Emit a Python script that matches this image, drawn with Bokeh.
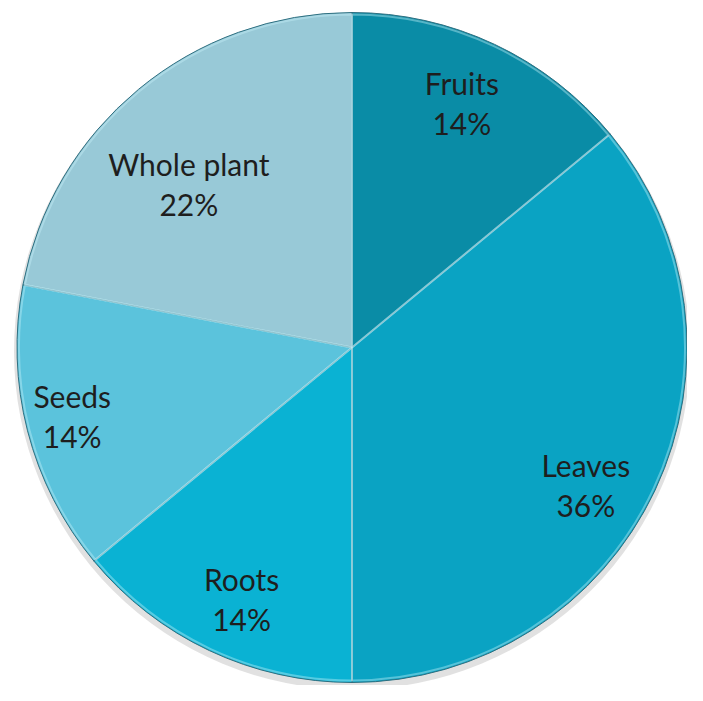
import math
from bokeh.plotting import figure
from bokeh.models import ColumnDataSource
from bokeh.core.properties import value
from bokeh.embed import file_html
from bokeh.resources import INLINE

# ---- data ----
categories = ["Fruits", "Leaves", "Roots", "Seeds", "Whole plant"]
shares = [14, 36, 14, 14, 22]
colors = ["#0A8CA6", "#0AA3C3", "#0AB2D3", "#5BC3DC", "#98C9D7"]

# ---- layout (pixel-like data space) ----
W, H = 687, 685
CX, CY, R = 351.5, 338.0, 335.0
label_r_frac = [0.80, 0.81, 0.82, 0.86, 0.69]
label_nudge_deg = [1.0, -5.3, 1.5, -0.6, 5.3]

total = float(sum(shares))
starts, ends, mids = [], [], []
a = math.pi / 2
for s in shares:
    sweep = 2 * math.pi * s / total
    starts.append(a)
    ends.append(a - sweep)
    mids.append(a - sweep / 2)
    a -= sweep

lx, ly = [], []
for m, f, n in zip(mids, label_r_frac, label_nudge_deg):
    ang = m + math.radians(n)
    lx.append(CX + f * R * math.cos(ang))
    ly.append(CY + f * R * math.sin(ang))

src = ColumnDataSource(dict(
    cat=categories,
    pct=[f"{s}%" for s in shares],
    start=starts, end=ends, color=colors,
    lx=lx, ly=ly,
))

p = figure(width=W, height=H, x_range=(0, W), y_range=(0, H),
           output_backend="svg", toolbar_location=None, min_border=0)
p.axis.visible = False
p.grid.visible = False
p.outline_line_color = None
p.background_fill_color = "white"
p.border_fill_color = "white"

# soft shadow
p.ellipse(x=CX, y=CY - 4, width=2 * R + 6, height=2 * R + 6,
          fill_color="#888888", fill_alpha=0.25, line_color=None)

p.wedge(x=CX, y=CY, radius=R, start_angle="start", end_angle="end",
        direction="clock", fill_color="color", line_color="#2E6F80",
        line_width=1, source=src)

# thin highlight along slice separators
p.wedge(x=CX, y=CY, radius=R - 2, start_angle="start", end_angle="end",
        direction="clock", fill_color=None, line_color="#C8F2FB",
        line_alpha=0.4, line_width=2, source=src)

p.text(x="lx", y="ly", text="cat", source=src, y_offset=-20,
       text_font=value("Lato"), text_font_size="30px", text_color="#1E1E1E",
       text_align="center", text_baseline="middle")
p.text(x="lx", y="ly", text="pct", source=src, y_offset=20,
       text_font=value("Lato"), text_font_size="30px", text_color="#1E1E1E",
       text_align="center", text_baseline="middle")

open("out.html", "w").write(file_html(p, INLINE))
